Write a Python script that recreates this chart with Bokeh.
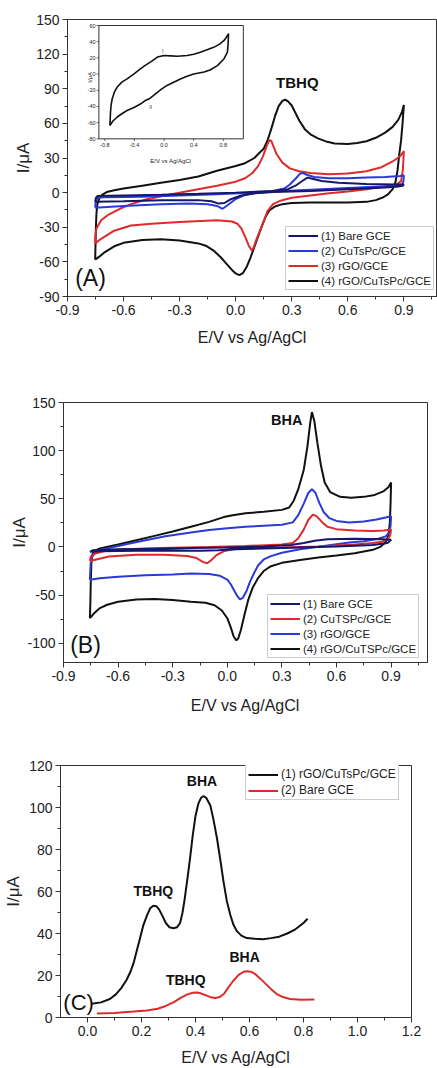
from bokeh.plotting import figure
from bokeh.models import Range1d, FixedTicker, PrintfTickFormatter, Legend, LegendItem
from bokeh.core.properties import value
from bokeh.embed import file_html
from bokeh.resources import INLINE

FONT = "Liberation Sans"
BLACK = "#111111"
RED = "#dd2b2b"
BLUE = "#2a3ad6"
NAVY = "#16166a"
INK = "#222222"

# ---------------- Panel A: cyclic voltammograms, TBHQ ----------------
a_bare = [(-0.752, -8), (-0.748, -4.5), (-0.74, -3), (-0.6, -2.5), (-0.4, -1.8), (-0.2, -1), (0.0, 0),
          (0.2, 1.5), (0.28, 3), (0.32, 6), (0.36, 10.5), (0.385, 13), (0.41, 12), (0.46, 10), (0.55, 8.5),
          (0.7, 7.5), (0.85, 7), (0.9, 7),
          (0.895, 6), (0.86, 5), (0.8, 4.5), (0.6, 3), (0.4, 1.5), (0.2, 0.5), (0.1, -0.5), (0.03, -2.5),
          (-0.03, -6), (-0.06, -9), (-0.09, -9.5), (-0.13, -7.5), (-0.2, -6.5), (-0.4, -6.5), (-0.6, -7.5),
          (-0.752, -8)]
a_cutspc = [(-0.752, -13), (-0.748, -7), (-0.74, -4.5), (-0.7, -4), (-0.5, -3.5), (-0.3, -2.5), (-0.1, -1.5),
            (0.1, 0), (0.2, 1.5), (0.26, 3.5), (0.29, 7), (0.32, 12), (0.345, 16.5), (0.36, 17), (0.38, 15.5),
            (0.42, 13.5), (0.5, 12.5), (0.6, 12.5), (0.7, 13), (0.8, 13.5), (0.88, 14.5), (0.9, 15),
            (0.898, 10), (0.89, 7), (0.85, 6), (0.8, 5.5), (0.6, 4), (0.4, 2.5), (0.2, 1), (0.1, -0.5),
            (0.05, -2), (0.0, -5.5), (-0.04, -10.5), (-0.07, -14), (-0.1, -11.5), (-0.15, -10), (-0.25, -9.5),
            (-0.4, -10), (-0.6, -11.5), (-0.752, -13)]
a_rgo = [(-0.752, -44), (-0.75, -36), (-0.745, -31), (-0.72, -24), (-0.68, -19), (-0.62, -14), (-0.56, -10),
         (-0.48, -6), (-0.38, -2.5), (-0.28, 0.5), (-0.18, 3.5), (-0.1, 6), (0.0, 9.5), (0.05, 12.5),
         (0.09, 17), (0.12, 23), (0.145, 31), (0.165, 40), (0.18, 45.5), (0.19, 45), (0.2, 41), (0.22, 33),
         (0.25, 26), (0.29, 21), (0.34, 18.5), (0.4, 17), (0.5, 16), (0.6, 16.5), (0.7, 18.5), (0.78, 22),
         (0.84, 27), (0.88, 31.5), (0.9, 36),
         (0.895, 20), (0.885, 10), (0.86, 7), (0.8, 5.5), (0.7, 3), (0.6, 1), (0.5, -0.5), (0.4, -2.5),
         (0.3, -4.5), (0.24, -7), (0.2, -10), (0.17, -16), (0.15, -25), (0.13, -33), (0.11, -41),
         (0.095, -48), (0.085, -50), (0.07, -46), (0.05, -38), (0.03, -31), (0.01, -27), (-0.02, -25),
         (-0.1, -24), (-0.3, -25.5), (-0.45, -27), (-0.56, -28.5), (-0.65, -33), (-0.72, -40), (-0.752, -44)]
a_rgo_cutspc = [(-0.752, -58), (-0.75, -45), (-0.748, -30), (-0.745, -18), (-0.74, -10), (-0.73, -5),
                (-0.715, -2), (-0.69, 0.5), (-0.65, 2), (-0.6, 3.5), (-0.5, 6), (-0.4, 8.5), (-0.3, 11),
                (-0.2, 14), (-0.1, 19), (0.0, 23), (0.05, 25.5), (0.1, 30), (0.13, 35), (0.15, 38), (0.17, 45),
                (0.19, 55), (0.21, 66), (0.23, 75), (0.25, 79.5), (0.265, 80.5), (0.28, 79), (0.3, 75.5),
                (0.32, 69), (0.34, 62.5), (0.37, 55), (0.4, 50.5), (0.44, 47), (0.49, 44), (0.53, 42.5),
                (0.6, 42.2), (0.65, 43), (0.7, 44.5), (0.75, 47.5), (0.8, 52), (0.84, 57), (0.87, 63),
                (0.89, 70), (0.9, 76),
                (0.893, 60), (0.885, 45), (0.876, 34), (0.866, 19), (0.855, 9), (0.84, 3), (0.815, -1.5),
                (0.79, -4), (0.75, -6.5), (0.7, -8), (0.6, -8.5), (0.5, -8.5), (0.4, -8.5), (0.3, -9),
                (0.25, -10), (0.21, -12), (0.18, -15.5), (0.16, -21), (0.14, -29), (0.12, -38), (0.1, -47),
                (0.08, -56), (0.06, -64), (0.04, -69.5), (0.02, -71.5), (0.0, -70), (-0.02, -67), (-0.05, -61.5),
                (-0.08, -56), (-0.12, -50), (-0.16, -46), (-0.2, -44), (-0.3, -41.5), (-0.4, -40.5), (-0.5, -41),
                (-0.6, -43.5), (-0.65, -46.5), (-0.7, -51.5), (-0.73, -55.5), (-0.752, -58)]
# inset of panel A: CuTsPc/GCE alone, its own scale
inset_cv = [(-0.732, -63.5), (-0.727, -55), (-0.723, -47), (-0.715, -38), (-0.7, -30.5), (-0.67, -22),
            (-0.633, -16), (-0.57, -10), (-0.5, -6), (-0.41, 0), (-0.32, 6.5), (-0.25, 11), (-0.18, 15),
            (-0.09, 21), (0.0, 23), (0.09, 22.5), (0.18, 22), (0.31, 23), (0.4, 24.5), (0.49, 27), (0.58, 30),
            (0.67, 33), (0.75, 37), (0.81, 41.5), (0.845, 46), (0.87, 50),
            (0.865, 38), (0.855, 27), (0.81, 19), (0.72, 10.5), (0.62, 5), (0.54, 2.5), (0.4, 0), (0.3, -3),
            (0.22, -6), (0.13, -10), (0.04, -14), (-0.04, -19), (-0.09, -22.5), (-0.15, -27), (-0.2, -30.5),
            (-0.26, -33), (-0.32, -37), (-0.4, -41), (-0.5, -45), (-0.57, -49), (-0.633, -53), (-0.69, -58),
            (-0.732, -63.5)]
inset_xticks = [-0.8, -0.4, 0.0, 0.4, 0.8]
inset_yticks = [-80, -60, -40, -20, 0, 20, 40, 60]

# ---------------- Panel B: cyclic voltammograms, BHA ----------------
b_bare = [(-0.755, -5), (-0.74, -3.5), (-0.6, -2.5), (-0.4, -1.8), (-0.2, -1.2), (0.0, -0.5), (0.2, 0.5),
          (0.35, 2), (0.42, 4), (0.48, 6.5), (0.55, 8), (0.7, 8.5), (0.85, 8), (0.9, 7.5),
          (0.88, 4), (0.8, 2), (0.6, 0.5), (0.4, -0.5), (0.2, -1.5), (0.05, -2.5), (-0.05, -3.5),
          (-0.15, -4), (-0.3, -3.8), (-0.5, -4), (-0.7, -4.5), (-0.755, -5)]
b_cutspc = [(-0.755, -14.5), (-0.75, -10), (-0.73, -7), (-0.68, -4.5), (-0.6, -3), (-0.45, -1.5), (-0.3, -0.8),
            (-0.1, 0), (0.1, 1), (0.3, 2.5), (0.36, 4), (0.39, 9), (0.42, 18), (0.445, 28), (0.47, 33.5),
            (0.49, 32), (0.52, 26), (0.55, 21), (0.6, 18.5), (0.7, 17), (0.8, 16.5), (0.86, 17), (0.9, 18),
            (0.895, 12), (0.88, 8), (0.85, 5.5), (0.8, 4), (0.7, 2.5), (0.5, 0.5), (0.3, -0.5), (0.1, -1.2),
            (0.03, -2.5), (-0.02, -4.5), (-0.06, -8.5), (-0.09, -14), (-0.11, -17), (-0.135, -15.5),
            (-0.17, -11.5), (-0.22, -9.5), (-0.35, -8), (-0.5, -8), (-0.65, -10), (-0.755, -14.5)]
b_rgo = [(-0.755, -34), (-0.753, -25), (-0.75, -16), (-0.745, -11), (-0.73, -7), (-0.7, -3.5), (-0.65, -1),
         (-0.55, 3), (-0.45, 7), (-0.34, 11), (-0.2, 15), (-0.1, 17.5), (0.0, 19.5), (0.1, 21), (0.2, 22),
         (0.3, 23), (0.36, 25.5), (0.39, 33), (0.42, 45), (0.445, 56), (0.465, 60), (0.485, 56), (0.505, 46),
         (0.53, 36), (0.56, 30), (0.6, 27), (0.67, 25.5), (0.75, 26.5), (0.82, 28.5), (0.87, 30.5), (0.9, 32),
         (0.897, 22), (0.89, 15), (0.87, 11), (0.83, 8.5), (0.75, 6), (0.67, 4.5), (0.55, 1.5), (0.4, -2.5),
         (0.3, -6), (0.24, -9.5), (0.2, -13), (0.17, -19), (0.15, -26), (0.125, -36), (0.105, -46),
         (0.085, -53), (0.07, -54.5), (0.055, -51), (0.04, -46), (0.02, -39), (0.0, -34), (-0.04, -30),
         (-0.1, -28), (-0.2, -27.5), (-0.3, -28.5), (-0.45, -29.5), (-0.6, -31), (-0.7, -32.5), (-0.755, -34)]
b_rgo_cutspc = [(-0.755, -74), (-0.752, -55), (-0.75, -35), (-0.747, -18), (-0.742, -8), (-0.73, -4),
                (-0.7, -1.5), (-0.65, 0.5), (-0.6, 2.5), (-0.5, 7), (-0.4, 11.5), (-0.3, 16), (-0.2, 21),
                (-0.1, 26), (-0.02, 31), (0.03, 33), (0.1, 35), (0.2, 36.5), (0.3, 38.5), (0.34, 41),
                (0.365, 48), (0.39, 60), (0.42, 80), (0.44, 104), (0.455, 128), (0.465, 140), (0.478, 131),
                (0.495, 108), (0.515, 84), (0.535, 67), (0.565, 57), (0.62, 52), (0.68, 51), (0.75, 52),
                (0.81, 54), (0.86, 58), (0.885, 62), (0.9, 67),
                (0.897, 45), (0.893, 25), (0.885, 12), (0.87, 5), (0.84, 0), (0.8, -3), (0.7, -6.5),
                (0.6, -9), (0.5, -11), (0.4, -13.5), (0.3, -16.5), (0.24, -20), (0.2, -25), (0.17, -32),
                (0.14, -42), (0.115, -55), (0.095, -70), (0.075, -86), (0.06, -95), (0.05, -97), (0.035, -93),
                (0.02, -84), (0.0, -74), (-0.03, -66), (-0.07, -60.5), (-0.12, -58), (-0.2, -57), (-0.3, -55),
                (-0.4, -54), (-0.5, -54.5), (-0.6, -57), (-0.66, -60), (-0.7, -63.5), (-0.73, -68.5),
                (-0.755, -74)]

# ---------------- Panel C: differential pulse voltammograms ----------------
c_rgo_cutspc = [(0.015, 6.5), (0.05, 7.2), (0.083, 8.8), (0.105, 11), (0.125, 14), (0.145, 18), (0.16, 22),
                (0.172, 26.5), (0.182, 31.5), (0.195, 38), (0.207, 44), (0.22, 48.5), (0.232, 52),
                (0.244, 53.2), (0.255, 53), (0.265, 51.5), (0.277, 48.5), (0.29, 45), (0.303, 43),
                (0.318, 42.5), (0.332, 43), (0.343, 45), (0.352, 50), (0.36, 56.5), (0.37, 66), (0.38, 76),
                (0.39, 87), (0.4, 96), (0.411, 102), (0.42, 104.5), (0.43, 105.5), (0.44, 104.5), (0.455, 101),
                (0.467, 94), (0.48, 85), (0.492, 75), (0.504, 64.5), (0.516, 55.5), (0.529, 48.8), (0.541, 44),
                (0.554, 41), (0.57, 39), (0.59, 37.8), (0.62, 37.5), (0.65, 37.3), (0.68, 37.8), (0.71, 38.5),
                (0.74, 40), (0.77, 42), (0.8, 45), (0.815, 47)]
c_bare = [(0.035, 1.9), (0.1, 2.2), (0.17, 2.8), (0.22, 3.3), (0.26, 4.2), (0.29, 5.5), (0.32, 7.3),
          (0.345, 9.3), (0.37, 11), (0.39, 11.8), (0.405, 11.9), (0.42, 11.5), (0.44, 10.5), (0.457, 9.6),
          (0.473, 9.3), (0.49, 9.8), (0.505, 11.2), (0.52, 14), (0.54, 17.5), (0.56, 20.3), (0.578, 21.8),
          (0.59, 22), (0.605, 21.8), (0.62, 20.8), (0.64, 18.5), (0.66, 16), (0.68, 13.5), (0.7, 11.3),
          (0.72, 9.9), (0.75, 8.8), (0.79, 8.5), (0.84, 8.6)]

cv_xticks = [-0.9, -0.6, -0.3, 0.0, 0.3, 0.6, 0.9]
cv_xminor = [-0.75, -0.45, -0.15, 0.15, 0.45, 0.75, 1.05]
a_yticks = [-90, -60, -30, 0, 30, 60, 90, 120, 150]
a_yminor = [-75, -45, -15, 15, 45, 75, 105, 135]
b_yticks = [-100, -50, 0, 50, 100, 150]
b_yminor = [-75, -25, 25, 75, 125]
c_xticks = [0.0, 0.2, 0.4, 0.6, 0.8, 1.0, 1.2]
c_xminor = [0.1, 0.3, 0.5, 0.7, 0.9, 1.1]
c_yticks = [0, 20, 40, 60, 80, 100, 120]
c_yminor = [10, 30, 50, 70, 90, 110]


def xs(pts):
    return [p[0] for p in pts]


def ys(pts):
    return [p[1] for p in pts]


def make_panel(height, xr, yr, left, right, top, bottom, xticks, xminor, yticks, yminor,
               xlabel_standoff, ylabel_standoff):
    p = figure(width=437, height=height, x_range=Range1d(*xr), y_range=Range1d(*yr),
               output_backend="svg", toolbar_location=None,
               min_border_left=left, min_border_right=right,
               min_border_top=top, min_border_bottom=bottom,
               background_fill_color="white", border_fill_color="white")
    p.xgrid.visible = False
    p.ygrid.visible = False
    p.outline_line_color = "#333333"
    p.outline_line_width = 1
    p.xaxis.axis_label = "E/V vs Ag/AgCl"
    p.yaxis.axis_label = "I/\u03bcA"
    for ax in (p.xaxis[0], p.yaxis[0]):
        ax.axis_line_color = "#333333"
        ax.major_tick_line_color = "#333333"
        ax.minor_tick_line_color = "#333333"
        ax.major_tick_out = 5
        ax.major_tick_in = 0
        ax.minor_tick_out = 3
        ax.minor_tick_in = 0
        ax.major_label_text_font = FONT
        ax.major_label_text_font_size = "14px"
        ax.major_label_text_color = INK
        ax.major_label_standoff = 3
        ax.axis_label_text_font = FONT
        ax.axis_label_text_font_style = "normal"
        ax.axis_label_text_color = INK
    p.xaxis[0].axis_label_text_font_size = "16px"
    p.yaxis[0].axis_label_text_font_size = "17px"
    p.xaxis[0].axis_label_standoff = xlabel_standoff
    p.yaxis[0].axis_label_standoff = ylabel_standoff
    p.xaxis[0].ticker = FixedTicker(ticks=xticks, minor_ticks=xminor)
    p.yaxis[0].ticker = FixedTicker(ticks=yticks, minor_ticks=yminor)
    p.xaxis[0].formatter = PrintfTickFormatter(format="%.1f")
    p.yaxis[0].formatter = PrintfTickFormatter(format="%d")
    return p


def add_legend(p, pairs, loc, font_size):
    leg = Legend(items=[LegendItem(label=lab, renderers=[r]) for lab, r in pairs],
                 location=loc, orientation="vertical",
                 label_text_font=FONT, label_text_font_size=font_size, label_text_color=INK,
                 glyph_width=30, glyph_height=13, label_height=13, label_standoff=3,
                 spacing=2, padding=2, margin=0,
                 border_line_color="#9a9a9a", border_line_width=1,
                 background_fill_color="white", background_fill_alpha=1.0)
    p.add_layout(leg)


def annotate(p, x, y, txt, size, bold=True):
    p.text(x=[x], y=[y], text=[txt], text_font=value(FONT), text_font_size=size,
           text_font_style="bold" if bold else "normal", text_color=BLACK,
           text_align="center", text_baseline="middle")


# ---- panel A ----
pA = make_panel(348, (-0.9, 1.08), (-90, 150), 67, 0, 19, 52,
                cv_xticks, cv_xminor, a_yticks, a_yminor, 11, 0)
rA4 = pA.line(xs(a_rgo_cutspc), ys(a_rgo_cutspc), line_color=BLACK, line_width=2)
rA3 = pA.line(xs(a_rgo), ys(a_rgo), line_color=RED, line_width=2)
rA2 = pA.line(xs(a_cutspc), ys(a_cutspc), line_color=BLUE, line_width=2)
rA1 = pA.line(xs(a_bare), ys(a_bare), line_color=NAVY, line_width=2)
annotate(pA, 0.33, 95.7, "TBHQ", "15px")
annotate(pA, -0.777, -74.4, "(A)", "23px", bold=False)
add_legend(pA, [("(1) Bare GCE", rA1), ("(2) CuTsPc/GCE", rA2),
                ("(3) rGO/GCE", rA3), ("(4) rGO/CuTsPc/GCE", rA4)], (218, 6), "11.5px")

# inset drawn in its own coordinate system placed in the upper left of panel A
in_x = (-0.88, 1.07)
in_y = (-80, 60)
ins = pA.subplot(x_source=Range1d(*in_x), y_source=Range1d(*in_y),
                 x_target=Range1d(-0.732, 0.041), y_target=Range1d(46.6, 144.8))
ins.quad(left=[in_x[0]], right=[in_x[1]], bottom=[in_y[0]], top=[in_y[1]],
         fill_color="white", line_color="#333333", line_width=1)
ins.line(xs(inset_cv), ys(inset_cv), line_color=BLACK, line_width=1.6)
ins.segment(x0=[in_x[0]] * len(inset_yticks), x1=[in_x[0] - 0.03] * len(inset_yticks),
            y0=inset_yticks, y1=inset_yticks, line_color="#333333", line_width=0.8)
ins.segment(x0=inset_xticks, x1=inset_xticks, y0=[in_y[0]] * len(inset_xticks),
            y1=[in_y[0] - 2.5] * len(inset_xticks), line_color="#333333", line_width=0.8)
ins.text(x=[in_x[0] - 0.045] * len(inset_yticks), y=inset_yticks, text=[str(v) for v in inset_yticks],
         text_font=value(FONT), text_font_size="5.5px", text_color=INK,
         text_align="right", text_baseline="middle")
ins.text(x=inset_xticks, y=[in_y[0] - 5] * len(inset_xticks), text=["%.1f" % v for v in inset_xticks],
         text_font=value(FONT), text_font_size="5.5px", text_color=INK,
         text_align="center", text_baseline="top")
ins.text(x=[0.09], y=[-107.5], text=["E/V vs Ag/AgCl"], text_font=value(FONT), text_font_size="6px",
         text_color=INK, text_align="center", text_baseline="middle")
ins.text(x=[-1.005], y=[-4], text=["I/\u03bcA"], text_font=value(FONT), text_font_size="6px",
         text_color=INK, text_align="center", text_baseline="middle", angle=1.5708)
ins.text(x=[-0.02, -0.18], y=[29, -41], text=["I", "II"], text_font=value(FONT), text_font_size="5px",
         text_color=INK, text_align="center", text_baseline="middle")

# ---- panel B ----
pB = make_panel(368, (-0.9, 1.1), (-120, 150), 63, 10, 54, 52,
                cv_xticks, cv_xminor, b_yticks, b_yminor, 13, -5)
rB4 = pB.line(xs(b_rgo_cutspc), ys(b_rgo_cutspc), line_color=BLACK, line_width=2)
rB3 = pB.line(xs(b_rgo), ys(b_rgo), line_color=BLUE, line_width=2)
rB2 = pB.line(xs(b_cutspc), ys(b_cutspc), line_color=RED, line_width=2)
rB1 = pB.line(xs(b_bare), ys(b_bare), line_color=NAVY, line_width=2)
annotate(pB, 0.327, 132, "BHA", "14.5px")
annotate(pB, -0.779, -102, "(B)", "23px", bold=False)
add_legend(pB, [("(1) Bare GCE", rB1), ("(2) CuTSPc/GCE", rB2),
                ("(3) rGO/GCE", rB3), ("(4) rGO/CuTSPc/GCE", rB4)], (204, 4), "11.5px")

# ---- panel C ----
pC = make_panel(352, (-0.1, 1.2), (0, 120), 60, 26, 49, 49,
                c_xticks, c_xminor, c_yticks, c_yminor, 10, 3)
rC1 = pC.line(xs(c_rgo_cutspc), ys(c_rgo_cutspc), line_color=BLACK, line_width=2)
rC2 = pC.line(xs(c_bare), ys(c_bare), line_color=RED, line_width=2)
annotate(pC, 0.424, 112.6, "BHA", "14px")
annotate(pC, 0.244, 60.2, "TBHQ", "14px")
annotate(pC, 0.364, 18, "TBHQ", "14px")
annotate(pC, 0.582, 28.7, "BHA", "14px")
annotate(pC, -0.033, 7, "(C)", "22px", bold=False)
add_legend(pC, [("(1) rGO/CuTsPc/GCE", rC1), ("(2) Bare GCE", rC2)], (185, 217), "12px")

# each panel is its own root so that the frames keep their own margins
open("out.html", "w").write(file_html([pA, pB, pC], INLINE))
